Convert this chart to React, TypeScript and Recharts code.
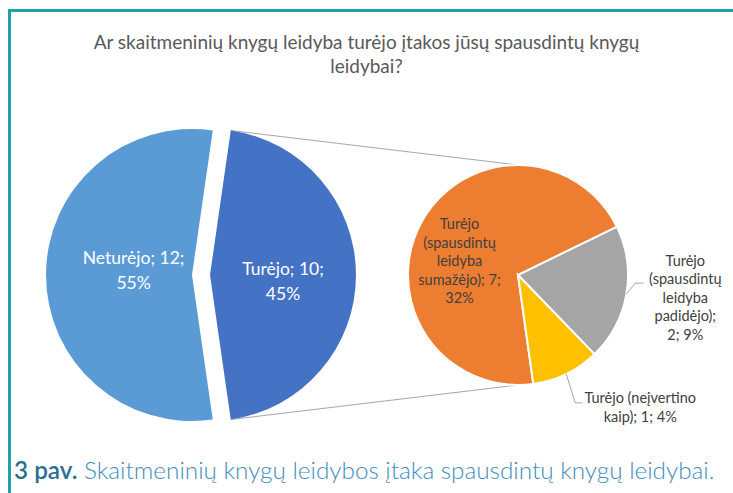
import { PieChart, Pie, Cell } from 'recharts';

// main pie
const mainNames = ['Neturėjo', 'Turėjo'];
const mainValues = [12, 10];
const mainPercents = [55, 45];

// second pie (breakdown of "Turėjo")
const detailNames = [
  'Turėjo (spausdintų leidyba sumažėjo)',
  'Turėjo (spausdintų leidyba padidėjo)',
  'Turėjo (neįvertino kaip)',
];
const detailValues = [7, 2, 1];
const detailPercents = [32, 9, 4];

const mainColors = ['#5B9BD5', '#4472C4'];
const detailColors = ['#ED7D31', '#A5A5A5', '#FFC000'];

const FONT = 'Lato, "Open Sans", sans-serif';

// geometry
const CY = 275;
const R = 146;
const CX_LEFT = 192;
const CX_RIGHT = 210; // exploded slice
const CX2 = 518;
const CY2 = 275;
const R2 = 110;

const mainData = mainNames.map((name, i) => ({ name, value: mainValues[i], pct: mainPercents[i] }));
const detailData = detailNames.map((name, i) => ({ name, value: detailValues[i], pct: detailPercents[i] }));

const mainTotal = mainValues.reduce((a, b) => a + b, 0);
const halfAngle = (180 * mainValues[1]) / mainTotal;

const RAD = Math.PI / 180;

const wrap = (text: string, max: number) => {
  const words = text.split(' ');
  const lines: string[] = [];
  let cur = '';
  words.forEach((w) => {
    if (!cur) cur = w;
    else if ((cur + ' ' + w).length <= max) cur += ' ' + w;
    else {
      lines.push(cur);
      cur = w;
    }
  });
  if (cur) lines.push(cur);
  return lines;
};

const mainLabelStyle = [
  { f: 0.4, dy: -5 },
  { f: 0.5, dy: 6 },
];

const detailLabelStyle: any[] = [
  { inside: true, f: 0.53, dx: -7, dy: 13, wrap: 13 },
  { elbow: [9, -11], tail: 8, tx: 42, ty: -23, wrap: 12 },
  { elbow: [9, 29], tail: 7, tx: 58, ty: -5, wrap: 18 },
];

const renderMainLabel = (shown: number) => (props: any) => {
  const { cx, cy, midAngle, outerRadius, index, payload } = props;
  if (index !== shown) return null;
  const s = mainLabelStyle[index];
  const x = cx + s.f * outerRadius * Math.cos(-midAngle * RAD);
  const y = cy + s.f * outerRadius * Math.sin(-midAngle * RAD) + s.dy;
  const lines = wrap(`${payload.name}; ${payload.value}; ${payload.pct}%`, 13);
  const lh = 25.5;
  return (
    <text x={x} y={y} textAnchor="middle" fill="#fff" fontSize={17.5} fontFamily={FONT}>
      {lines.map((l, i) => (
        <tspan key={i} x={x} y={y + (i - (lines.length - 1) / 2) * lh} dominantBaseline="central">
          {l}
        </tspan>
      ))}
    </text>
  );
};

const renderDetailLabel = (props: any) => {
  const { cx, cy, midAngle, outerRadius, index, payload } = props;
  const s = detailLabelStyle[index];
  const lines = wrap(`${payload.name}; ${payload.value}; ${payload.pct}%`, s.wrap);
  const lh = 18.5;
  const cos = Math.cos(-midAngle * RAD);
  const sin = Math.sin(-midAngle * RAD);
  if (s.inside) {
    const x = cx + s.f * outerRadius * cos + s.dx;
    const y = cy + s.f * outerRadius * sin + s.dy;
    return (
      <text x={x} y={y} textAnchor="middle" fill="#404040" fontSize={14.5} fontFamily={FONT}>
        {lines.map((l, i) => (
          <tspan key={i} x={x} y={y + (i - (lines.length - 1) / 2) * lh} dominantBaseline="central">
            {l}
          </tspan>
        ))}
      </text>
    );
  }
  const ex = cx + outerRadius * cos;
  const ey = cy + outerRadius * sin;
  const bx = ex + s.elbow[0];
  const by = ey + s.elbow[1];
  const tx = bx + s.tail;
  const x = tx + s.tx;
  const y0 = by + s.ty;
  return (
    <g>
      <polyline points={`${ex},${ey} ${bx},${by} ${tx},${by}`} fill="none" stroke="#A6A6A6" strokeWidth={1} />
      <text x={x} y={y0} textAnchor="middle" fill="#404040" fontSize={14.5} fontFamily={FONT}>
        {lines.map((l, i) => (
          <tspan key={i} x={x} y={y0 + i * lh} dominantBaseline="central">
            {l}
          </tspan>
        ))}
      </text>
    </g>
  );
};

export default function App() {
  const topX = CX_RIGHT + R * Math.cos(halfAngle * RAD);
  const topY = CY - R * Math.sin(halfAngle * RAD);
  const botY = CY + R * Math.sin(halfAngle * RAD);
  const start = halfAngle;
  return (
    <div style={{ position: 'absolute', left: 0, top: 0, width: 733, height: 493, background: '#fff', overflow: 'hidden' }}>
      <div
        style={{
          position: 'absolute',
          left: 8,
          top: 9,
          width: 725,
          height: 484,
          borderTop: '3px solid #1FA0AB',
          borderLeft: '3px solid #1FA0AB',
          boxSizing: 'border-box',
        }}
      />
      <div
        style={{
          position: 'absolute',
          left: (733 - 570) / 2,
          top: 30,
          width: 570,
          textAlign: 'center',
          fontFamily: FONT,
          fontSize: 19,
          lineHeight: '24px',
          color: '#595959',
        }}
      >
        Ar skaitmeninių knygų leidyba turėjo įtakos jūsų spausdintų knygų leidybai?
      </div>
      <svg width={733} height={493} style={{ position: 'absolute', left: 0, top: 0 }}>
        <line x1={topX} y1={topY} x2={CX2} y2={CY2 - R2} stroke="#A6A6A6" strokeWidth={1} />
        <line x1={topX} y1={botY} x2={CX2} y2={CY2 + R2} stroke="#A6A6A6" strokeWidth={1} />
      </svg>
      <div style={{ position: 'absolute', left: 0, top: 0 }}>
        <PieChart width={733} height={493} margin={{ top: 0, right: 0, bottom: 0, left: 0 }}>
          <Pie
            data={mainData}
            dataKey="value"
            cx={CX_LEFT}
            cy={CY}
            outerRadius={R}
            startAngle={start}
            endAngle={start + 360}
            stroke="none"
            label={renderMainLabel(0)}
            labelLine={false}
            isAnimationActive={false}
          >
            {mainData.map((_, i) => (
              <Cell key={i} fill={i === 0 ? mainColors[0] : 'none'} />
            ))}
          </Pie>
          <Pie
            data={mainData}
            dataKey="value"
            cx={CX_RIGHT}
            cy={CY}
            outerRadius={R}
            startAngle={start}
            endAngle={start + 360}
            stroke="none"
            label={renderMainLabel(1)}
            labelLine={false}
            isAnimationActive={false}
          >
            {mainData.map((_, i) => (
              <Cell key={i} fill={i === 1 ? mainColors[1] : 'none'} />
            ))}
          </Pie>
          <Pie
            data={detailData}
            dataKey="value"
            cx={CX2}
            cy={CY2}
            outerRadius={R2}
            startAngle={-82}
            endAngle={-442}
            stroke="#fff"
            strokeWidth={2}
            label={renderDetailLabel}
            labelLine={false}
            isAnimationActive={false}
          >
            {detailData.map((_, i) => (
              <Cell key={i} fill={detailColors[i]} />
            ))}
          </Pie>
        </PieChart>
      </div>
      <div
        style={{
          position: 'absolute',
          left: 14,
          top: 456,
          whiteSpace: 'nowrap',
          fontFamily: FONT,
          fontSize: 24.3,
          lineHeight: '28px',
          color: '#3E8DBE',
          fontWeight: 300,
        }}
      >
        <span style={{ color: '#2B6F93', fontWeight: 600 }}>3 pav.</span> Skaitmeninių knygų leidybos įtaka spausdintų knygų
        leidybai.
      </div>
    </div>
  );
}
